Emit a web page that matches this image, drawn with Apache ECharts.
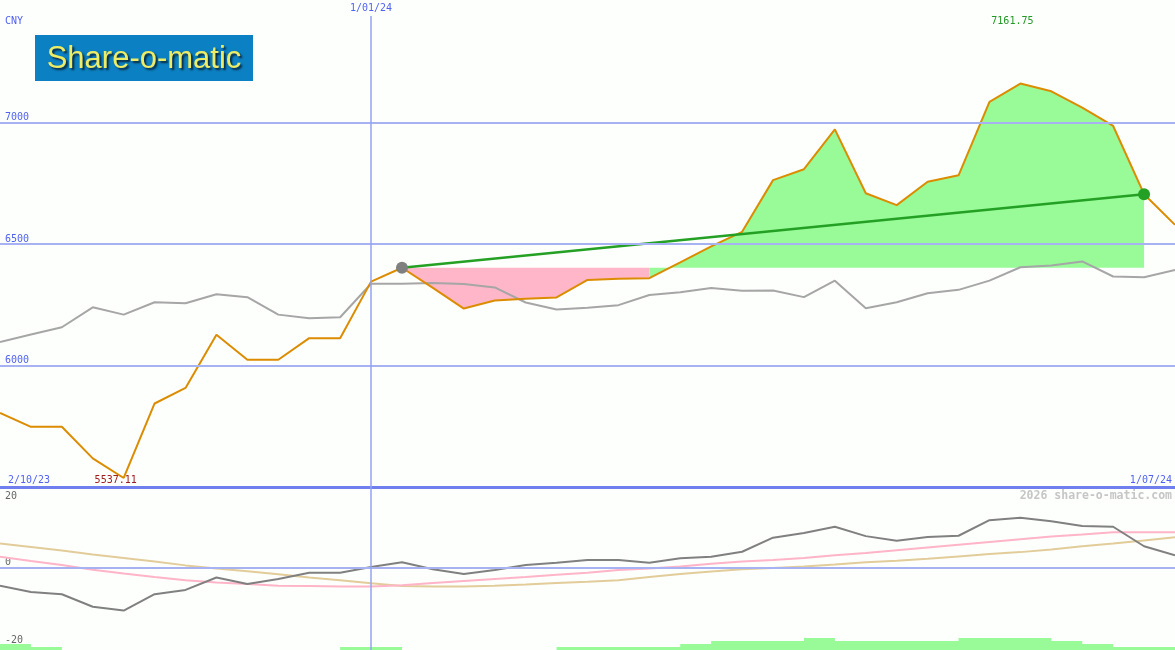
<!DOCTYPE html>
<html><head><meta charset="utf-8">
<script src="https://cdn.jsdelivr.net/npm/echarts@6/dist/echarts.min.js"></script>
<style>html,body{margin:0;padding:0;background:#fdfffd}#c{width:1175px;height:650px}</style>
</head><body><div id="c"></div>
<script>
// ---- data (weekly points, index 0 = 2/10/23 ... 38 = 1/07/24) ----
const currency = 'CNY';
const price = [5805,5748,5748,5618,5537.11,5844,5908,6127,6024,6024,6113,6113,6346,6403,6320,6235,6268,6275,6281,6353,6358,6360,6425,6491,6551,6764,6809,6973,6710,6661,6757,6784,7086,7161.75,7130,7063,6987,6706,6580];
const compare = [6097,6128,6158,6240,6210,6261,6257,6294,6282,6210,6195,6199,6337,6337,6340,6336,6322,6260,6231,6238,6249,6291,6302,6320,6308,6309,6282,6350,6236,6261,6298,6312,6350,6405,6412,6429,6367,6364,6394];
const osc = [-4.5,-6.1,-6.7,-9.9,-10.9,-6.7,-5.6,-2.4,-4.1,-2.8,-1.2,-1.2,0.3,1.5,-0.3,-1.5,-0.5,0.8,1.4,2.1,2.1,1.4,2.5,2.9,4.2,7.8,9.0,10.6,8.2,7.0,8.0,8.3,12.3,12.9,12.0,10.8,10.6,5.6,3.3];
const sigFast = [2.9,1.8,0.8,-0.4,-1.4,-2.3,-3.1,-3.7,-4.1,-4.5,-4.6,-4.7,-4.7,-4.4,-3.8,-3.3,-2.8,-2.3,-1.7,-1.2,-0.5,-0.1,0.4,1.1,1.7,2.1,2.6,3.3,3.9,4.6,5.3,6.0,6.7,7.4,8.1,8.6,9.2,9.2,9.2];
const sigSlow = [6.3,5.4,4.5,3.5,2.6,1.7,0.7,-0.1,-0.8,-1.6,-2.4,-3.1,-3.9,-4.6,-4.7,-4.7,-4.5,-4.2,-3.8,-3.5,-3.1,-2.3,-1.5,-0.9,-0.3,0.0,0.4,0.9,1.5,1.9,2.4,3.0,3.6,4.1,4.8,5.6,6.3,7.1,7.9];
const volume = [2,1,0,0,0,0,0,0,0,0,0,1,1,0,0,0,0,0,1,1,1,1,2,3,3,3,4,3,3,3,3,4,4,4,3,2,1,1,0];
const priceTicks = [6000, 6500, 7000];
const oscTicks = [20, 0, -20];
const dateLabels = {0: '2/10/23', 12: '1/01/24', 38: '1/07/24'};
const markerIndex = 12;
const trendStart = 13, trendEnd = 37;
const watermark = '2026 share-o-matic.com';
const logoText = 'Share-o-matic';

// ---- derived ----
const lastIdx = price.length - 1;
const pairs = arr => arr.map((v, i) => [i, v]);
const base = price[trendStart];
let cross = trendStart;
while (cross < trendEnd && price[cross + 1] <= base) cross++;
const rangePairs = (a, b) => { const r = []; for (let i = a; i <= b; i++) r.push([i, price[i]]); return r; };

const MONO = 'DejaVu Sans Mono';
const BLUE = '#5263f0';
const GRIDC = '#a6b2f2';
const VLINE = '#93a2f2';

const chart = echarts.init(document.getElementById('c'), null, {renderer: 'canvas'});
chart.setOption({
  animation: false,
  backgroundColor: '#fdfffd',
  title: {text: currency, left: 0, top: 11, textStyle: {fontFamily: MONO, fontSize: 10, fontWeight: 'normal', color: BLUE}},
  grid: [
    {left: 0, right: 0, top: 16, height: 471},
    {left: 0, right: 0, top: 487, height: 163}
  ],
  xAxis: [
    {gridIndex: 0, type: 'value', min: 0, max: lastIdx, position: 'top',
     axisLine: {show: false}, axisTick: {show: false}, splitLine: {show: false},
     axisLabel: {customValues: [markerIndex], formatter: v => dateLabels[v] || '', color: BLUE, fontFamily: MONO, fontSize: 10, margin: 3}},
    {gridIndex: 0, type: 'value', min: 0, max: lastIdx, position: 'bottom',
     axisLine: {show: true, onZero: false, lineStyle: {color: '#6f80ee', width: 3}}, axisTick: {show: false}, splitLine: {show: false},
     axisLabel: {inside: true, customValues: [0, lastIdx], formatter: v => dateLabels[v] || '', alignMinLabel: 'left', alignMaxLabel: 'right',
       padding: [0, 3, 0, 8], margin: 2, color: BLUE, fontFamily: MONO, fontSize: 10}},
    {gridIndex: 1, type: 'value', min: 0, max: lastIdx, show: false}
  ],
  yAxis: [
    {gridIndex: 0, type: 'value', min: 5500, max: 7440,
     axisLine: {show: false}, axisTick: {show: false}, splitLine: {show: false},
     axisLabel: {inside: true, customValues: priceTicks, verticalAlign: 'bottom', margin: 5, color: BLUE, fontFamily: MONO, fontSize: 10,
       formatter: v => String(v)}},
    {gridIndex: 1, type: 'value', min: -21, max: 20.8,
     axisLine: {show: false}, axisTick: {show: false}, splitLine: {show: false},
     axisLabel: {inside: true, customValues: oscTicks, margin: 5, verticalAlign: 'middle',
       formatter: v => v > 0 ? '{dn|' + v + '}' : '{up|' + v + '}',
       rich: {
         dn: {padding: [12, 0, 0, 0], color: '#666', fontFamily: MONO, fontSize: 10},
         up: {padding: [0, 0, 11, 0], color: '#666', fontFamily: MONO, fontSize: 10}
       }}},
    {gridIndex: 1, type: 'value', min: 0, max: 54.33, show: false}
  ],
  graphic: [
    {type: 'group', left: 35, top: 35, children: [
      {type: 'rect', shape: {x: 0, y: 0, width: 218, height: 46}, style: {fill: '#0b80c2'}},
      {type: 'text', x: 109, y: 24, style: {text: logoText, font: '31px "Liberation Sans"', fill: '#ecec66', align: 'center', verticalAlign: 'middle',
        textShadowColor: 'rgba(10,30,50,0.9)', textShadowBlur: 2, textShadowOffsetX: 2, textShadowOffsetY: 2}}
    ]},
    {type: 'text', right: 3, top: 490, style: {text: watermark, font: 'bold 11.5px "DejaVu Sans Mono"', fill: '#c6c6c6'}}
  ],
  series: [
    // main grid lines / date marker
    {type: 'line', xAxisIndex: 0, yAxisIndex: 0, data: pairs(price), symbol: 'none', silent: true, z: 0,
     lineStyle: {opacity: 0},
     markLine: {silent: true, symbol: 'none', label: {show: false}, lineStyle: {color: GRIDC, width: 2, type: 'solid'},
       data: priceTicks.map(v => ({yAxis: v})).concat([{xAxis: markerIndex, lineStyle: {width: 1.5, color: VLINE, type: 'solid'}}])}},
    // below-start fill
    {type: 'line', xAxisIndex: 0, yAxisIndex: 0, data: rangePairs(trendStart, cross), symbol: 'none', silent: true, z: 1,
     lineStyle: {width: 0}, areaStyle: {color: '#ffb6c9', opacity: 1, origin: base}},
    // above-start fill
    {type: 'line', xAxisIndex: 0, yAxisIndex: 0, data: rangePairs(cross, trendEnd), symbol: 'none', silent: true, z: 1,
     lineStyle: {width: 0}, areaStyle: {color: '#98fb98', opacity: 1, origin: base}},
    // comparison line
    {type: 'line', xAxisIndex: 0, yAxisIndex: 0, data: pairs(compare), symbol: 'none', z: 2,
     lineStyle: {color: '#a6a6a6', width: 2}},
    // price
    {type: 'line', xAxisIndex: 0, yAxisIndex: 0, data: pairs(price), symbol: 'none', z: 3,
     lineStyle: {color: '#dc8c00', width: 2},
     markPoint: {symbol: 'circle', symbolSize: 0,
       label: {show: true, position: 'inside', fontFamily: MONO, fontSize: 10, formatter: p => Number(p.value).toFixed(2)},
       data: [
         {type: 'max', valueDim: 'y', label: {offset: [-8, -62], color: '#229922'}},
         {type: 'min', valueDim: 'y', label: {offset: [-8, 2], color: '#a01c1c'}}
       ]}},
    // trend line
    {type: 'line', xAxisIndex: 0, yAxisIndex: 0, z: 4, symbol: 'circle', symbolSize: 12, showSymbol: true,
     lineStyle: {color: '#24a024', width: 2.5},
     data: [
       {value: [trendStart, price[trendStart]], itemStyle: {color: '#808080'}},
       {value: [trendEnd, price[trendEnd]], itemStyle: {color: '#24a024'}}
     ]},
    // bottom panel zero line / date marker
    {type: 'line', xAxisIndex: 2, yAxisIndex: 1, data: pairs(osc), symbol: 'none', silent: true, z: 0,
     lineStyle: {opacity: 0},
     markLine: {silent: true, symbol: 'none', label: {show: false}, lineStyle: {color: GRIDC, width: 2, type: 'solid'},
       data: [{yAxis: 0}, {xAxis: markerIndex, lineStyle: {width: 1.5, color: VLINE, type: 'solid'}}]}},
    // volume-like bars
    {type: 'line', xAxisIndex: 2, yAxisIndex: 2, data: pairs(volume), step: 'end', symbol: 'none', z: 1,
     lineStyle: {width: 0}, areaStyle: {color: '#98fb98', opacity: 1}},
    {type: 'line', xAxisIndex: 2, yAxisIndex: 1, data: pairs(sigSlow), symbol: 'none', z: 2,
     lineStyle: {color: '#e2cc9a', width: 2}},
    {type: 'line', xAxisIndex: 2, yAxisIndex: 1, data: pairs(sigFast), symbol: 'none', z: 2,
     lineStyle: {color: '#ffb4c8', width: 2}},
    {type: 'line', xAxisIndex: 2, yAxisIndex: 1, data: pairs(osc), symbol: 'none', z: 3,
     lineStyle: {color: '#808080', width: 2}}
  ]
});
</script>
</body></html>
